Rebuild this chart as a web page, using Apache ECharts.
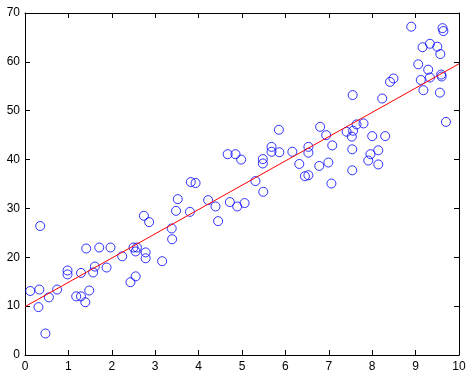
<!DOCTYPE html>
<html>
<head>
<meta charset="utf-8">
<script src="https://cdn.jsdelivr.net/npm/echarts@6/dist/echarts.min.js"></script>
<style>
html,body{margin:0;padding:0;background:#fff;}
#c{width:474px;height:385px;}
</style>
</head>
<body>
<div id="c"></div>
<script>
const xValues = [0.12,0.33,0.31,0.35,0.47,0.55,0.74,0.98,0.98,1.18,1.29,1.29,1.39,1.41,1.48,1.57,1.61,1.71,1.88,1.97,
  2.24,2.43,2.50,2.58,2.55,2.55,2.74,2.78,2.78,2.86,3.16,3.38,3.39,3.48,3.52,3.80,3.82,3.93,4.22,4.39,
  4.45,4.67,4.72,4.85,4.89,4.98,5.06,5.31,5.48,5.48,5.49,5.68,5.68,5.85,5.86,6.16,6.32,6.45,6.53,6.53,
  6.53,6.78,6.80,6.94,6.99,7.06,7.08,7.41,7.53,7.56,7.64,7.80,7.54,7.54,7.55,7.91,7.96,8.00,8.14,8.14,
  8.23,8.30,8.41,8.49,8.90,9.06,9.12,9.16,9.18,9.29,9.33,9.33,9.50,9.57,9.56,9.59,9.60,9.62,9.64,9.70];
const yValues = [13.1,13.4,9.8,26.4,4.4,11.8,13.4,17.3,16.5,12.0,12.0,16.8,10.8,21.8,13.2,16.9,18.1,22.0,17.9,22.0,
  20.2,14.9,22.0,22.0,21.2,16.1,28.5,21.0,19.8,27.2,19.2,25.9,23.7,29.5,31.9,29.3,35.4,35.2,31.7,30.4,
  27.4,41.1,31.3,41.1,30.4,40.0,31.1,35.6,40.1,39.2,33.4,42.6,41.6,46.1,41.5,41.6,39.1,36.6,36.8,42.6,
  41.4,38.7,46.7,45.0,39.4,35.1,42.9,45.7,44.7,45.9,47.2,47.4,42.1,37.8,53.2,39.8,41.1,44.8,41.9,39.0,
  52.5,44.8,55.9,56.6,67.2,59.5,56.3,63.0,54.2,58.4,63.7,56.8,63.1,61.6,53.7,57.4,57.0,66.9,66.3,47.7];
const fitX = [0, 10];
const fitY = [9.9, 59.6];
const xTicks = [0,1,2,3,4,5,6,7,8,9,10];
const yTicks = [0,10,20,30,40,50,60,70];

const pts = xValues.map((x, i) => [x, yValues[i]]);
const fit = fitX.map((x, i) => [x, fitY[i]]);

const chart = echarts.init(document.getElementById('c'), null, {renderer: 'canvas'});
const font = {color: '#000', fontSize: 12, fontFamily: 'Liberation Sans, Arial, sans-serif'};
const axLine = {show: true, onZero: false, lineStyle: {color: '#000', width: 1}};
const tick = {show: true, inside: true, length: 5, lineStyle: {color: '#000', width: 1}};
chart.setOption({
  animation: false,
  backgroundColor: '#fff',
  grid: {left: 25, top: 13, right: 15, bottom: 30, containLabel: false},
  xAxis: [
    {type: 'value', min: 0, max: 10, interval: 1, position: 'bottom',
     axisLine: axLine, axisTick: tick, splitLine: {show: false},
     axisLabel: Object.assign({margin: 6}, font)},
    {type: 'value', min: 0, max: 10, interval: 1, position: 'top',
     axisLine: axLine, axisTick: tick, splitLine: {show: false}, axisLabel: {show: false}}
  ],
  yAxis: [
    {type: 'value', min: 0, max: 70, interval: 10, position: 'left',
     axisLine: axLine, axisTick: tick, splitLine: {show: false},
     axisLabel: Object.assign({margin: 5}, font)},
    {type: 'value', min: 0, max: 70, interval: 10, position: 'right',
     axisLine: axLine, axisTick: tick, splitLine: {show: false}, axisLabel: {show: false}}
  ],
  series: [
    {type: 'scatter', xAxisIndex: 0, yAxisIndex: 0, data: pts, symbol: 'circle', symbolSize: 9,
     silent: true,
     itemStyle: {color: 'rgba(0,0,0,0)', borderColor: '#0000ff', borderWidth: 1}},
    {type: 'line', xAxisIndex: 0, yAxisIndex: 0, data: fit, showSymbol: false, symbol: 'none', silent: true,
     lineStyle: {color: '#ff0000', width: 1}}
  ]
});
</script>
</body>
</html>
